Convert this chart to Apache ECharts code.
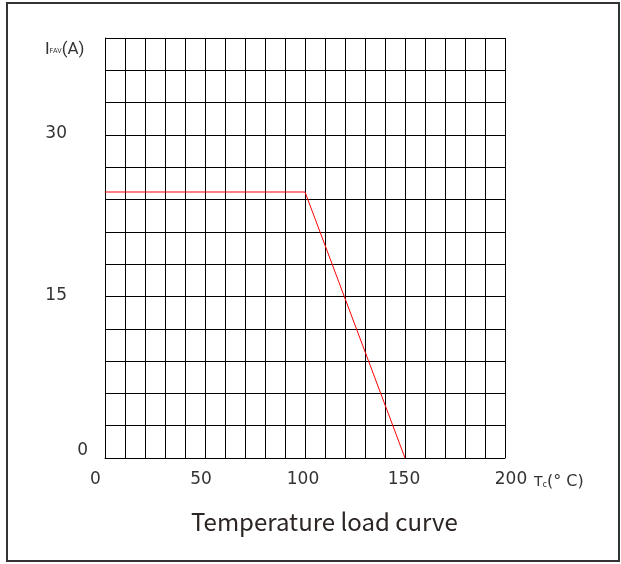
<!DOCTYPE html>
<html>
<head>
<meta charset="utf-8">
<script src="https://cdn.jsdelivr.net/npm/echarts@6/dist/echarts.min.js"></script>
<style>
html,body{margin:0;padding:0;background:#fff;}
#c{width:621px;height:564px;}
</style>
</head>
<body>
<div id="c"></div>
<script>
// Data
var xTickLabels = [0, 50, 100, 150, 200];
var yTickLabels = [0, 15, 30];
var curveT = [0, 100, 150];
var curveI = [24.7, 24.7, 0];
var titleText = 'Temperature load curve';

var chart = echarts.init(document.getElementById('c'), null, {renderer: 'canvas'});
var lineData = curveT.map(function (t, i) { return [t, curveI[i]]; });

var xShift = {0: 'a', 50: 'b', 100: 'c', 150: 'd', 200: 'e'};
var numFont = 'DejaVu Sans';
var numSize = 17;
var numColor = '#333';
function rs(pad) { return {fontFamily: numFont, fontSize: numSize, color: numColor, padding: pad}; }

var option = {
  animation: false,
  backgroundColor: '#fff',
  grid: {left: 105, top: 38, width: 400, height: 420, containLabel: false},
  xAxis: {
    type: 'value', min: 0, max: 200, interval: 10,
    axisLine: {show: true, lineStyle: {color: '#000', width: 1}},
    axisTick: {show: false},
    splitLine: {show: true, lineStyle: {color: '#000', width: 1}},
    axisLabel: {
      margin: 13,
      fontFamily: numFont, fontSize: numSize, color: numColor,
      formatter: function (v) {
        if (xTickLabels.indexOf(v) < 0) return '';
        return '{' + xShift[v] + '|' + v + '}';
      },
      rich: {
        a: rs([0, 19, 0, 0]),
        b: rs([0, 8, 0, 0]),
        c: rs([0, 4, 0, 0]),
        d: rs([0, 2, 0, 0]),
        e: rs([0, 0, 0, 12])
      }
    }
  },
  yAxis: {
    type: 'value', min: 0, max: 39, interval: 3,
    axisLine: {show: true, lineStyle: {color: '#000', width: 1}},
    axisTick: {show: false},
    splitLine: {show: true, lineStyle: {color: '#000', width: 1}},
    axisLabel: {
      margin: 17,
      fontFamily: numFont, fontSize: numSize, color: numColor,
      formatter: function (v) {
        if (yTickLabels.indexOf(v) < 0) return '';
        return v === 0 ? '{z|' + v + '}' : '{p|' + v + '}';
      },
      rich: {
        z: rs([0, 0, 14, 0]),
        p: rs([0, 21, 2, 0])
      }
    }
  },
  series: [{
    type: 'line',
    data: lineData,
    showSymbol: false,
    symbol: 'none',
    lineStyle: {color: '#ff0000', width: 1},
    z: 5
  }],
  graphic: [
    {
      type: 'rect', silent: true,
      shape: {x: 7, y: 3, width: 612, height: 558},
      style: {fill: 'none', stroke: '#333', lineWidth: 2}
    },
    {
      type: 'text', left: 45, top: 41,
      style: {
        text: '{i|I}{s|FAV}{a|(A)}',
        rich: {
          i: {fontFamily: 'Roboto', fontSize: 17, fill: '#333'},
          s: {fontFamily: 'Roboto', fontSize: 7, fill: '#333', padding: [4, 0, 0, 0]},
          a: {fontFamily: 'Roboto', fontSize: 17, fill: '#333'}
        }
      }
    },
    {
      type: 'text', left: 534, top: 474,
      style: {
        text: '{t|T}{c|c}{u|(° C)}',
        rich: {
          t: {fontFamily: numFont, fontSize: 14, fill: '#333'},
          c: {fontFamily: numFont, fontSize: 8, fill: '#333', padding: [6, 0, 0, 0]},
          u: {fontFamily: numFont, fontSize: 16, fill: '#333'}
        }
      }
    },
    {
      type: 'text', left: 191, top: 510,
      style: {
        text: titleText,
        fontFamily: 'Noto Sans CJK SC', fontSize: 24, fill: '#2b2523'
      }
    }
  ]
};
chart.setOption(option);
</script>
</body>
</html>
